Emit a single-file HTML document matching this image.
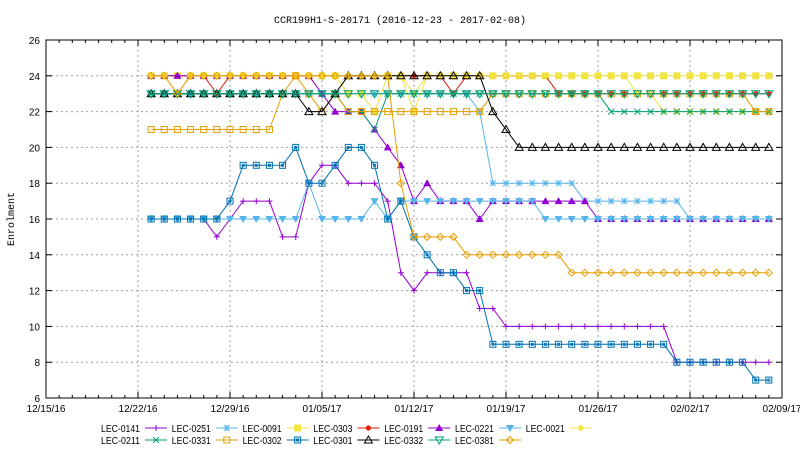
<!DOCTYPE html>
<html><head><meta charset="utf-8"><style>
body{margin:0;background:#fff;}
svg{display:block;font-family:"Liberation Sans",sans-serif;}
</style></head><body>
<svg id="chart" width="800" height="450">
<text x="400" y="23" text-anchor="middle" font-size="10" font-family="Liberation Mono, monospace">CCR199H1-S-20171 (2016-12-23 - 2017-02-08)</text>
<text transform="translate(14,219) rotate(-90)" text-anchor="middle" font-size="10" font-family="Liberation Mono, monospace">Enrolment</text>
<g id="grid"></g><g id="series"></g><g id="axes"></g><g id="legend"></g>
</svg>
<script>
const yTicks=[6,8,10,12,14,16,18,20,22,24,26];
const xTickLabels=["12/15/16","12/22/16","12/29/16","01/05/17","01/12/17","01/19/17","01/26/17","02/02/17","02/09/17"];
const xTickDays=[0,7,14,21,28,35,42,49,56];
const startDay=8; // 12/23 offset from 12/15
const names=["LEC-0141","LEC-0251","LEC-0091","LEC-0303","LEC-0191","LEC-0221","LEC-0021","LEC-0211","LEC-0331","LEC-0302","LEC-0301","LEC-0332","LEC-0381"];
function rep(v,n){return Array(n).fill(v);}
const s0141=[16,16,16,16,16,15,16,17,17,17,15,15,18,19,19,18,18,18,17,13,12,13,13,13,13,11,11].concat(rep(10,13),rep(8,8));
const s0251=rep(23,25).concat([22,18],rep(18,6),rep(17,8),rep(16,7));
const s0091=rep(24,15).concat([23,23,22,24,24,22],rep(24,27));
const s0303=[24,24,24,24,24,23].concat(rep(24,17),[23],rep(24,7),rep(23,17));
const s0191=rep(24,13).concat([23,22,22,22,21,20,19,17,18,17,17,17,16],rep(17,8),rep(16,14));
const s0221=rep(16,12).concat([18,16,16,16,16,17,16],rep(17,11),rep(16,18));
const s0021=[24,24,23,24].concat(rep(24,16),[23],rep(24,16),[23,23],rep(22,9));
const s0211=rep(23,15).concat([22,22,21],rep(23,17),rep(22,13));
const s0331=rep(21,10).concat([23,24,23,22,23,22,22,22],rep(22,8),rep(23,20),[22,22]);
const s0302=rep(16,6).concat([17,19,19,19,19,20,18,18,19,20,20,19,16,17,15,14,13,13,12,12],rep(9,14),rep(8,6),[7,7]);
const s0301=rep(23,12).concat([22,22,23],rep(24,11),[22,21],rep(20,20));
const s0332=rep(23,48);
const s0381=[24,24,23,24].concat(rep(24,15),[18,15,15,15,15],rep(14,8),rep(13,16));
const seriesData=[s0141,s0251,s0091,s0303,s0191,s0221,s0021,s0211,s0331,s0302,s0301,s0332,s0381];
const colors=["#9400d3","#56b4e9","#f0e442","#e51e10","#9400d3","#56b4e9","#f0e442","#009e73","#e69f00","#0072b2","#000000","#009e73","#e69f00"];
const markers=["plus","star","sq","circ","tri","dtri","diam","x","osq","osqc","otri","odtri","odiam"];
const L=46,R=782,T=40,B=398;
function xs(d){return L+(d/56)*(R-L);}
function ys(v){return B-(v-6)/20*(B-T);}
const NS="http://www.w3.org/2000/svg";
function mk(tag,attrs,parent){const e=document.createElementNS(NS,tag);for(const k in attrs)e.setAttribute(k,attrs[k]);parent.appendChild(e);return e;}
const grid=document.getElementById('grid'),axes=document.getElementById('axes'),sg=document.getElementById('series'),lg=document.getElementById('legend');
yTicks.forEach(v=>{
 const y=ys(v);
 if(v>6&&v<26){const g=mk('line',{x1:L,x2:R,y1:y,y2:y,stroke:'#a0a0a0','stroke-dasharray':'2,3','stroke-width':1},grid);
 
 }
 mk('line',{x1:L,x2:L+6,y1:y,y2:y,stroke:'#000'},axes);
 mk('line',{x1:R,x2:R-6,y1:y,y2:y,stroke:'#000'},axes);
 const t=mk('text',{x:L-6,y:y+4,'text-anchor':'end','font-size':10},axes);t.textContent=v;
 
 
});
for(let d=0;d<=56;d++){const x=xs(d);mk('line',{x1:x,x2:x,y1:B,y2:B-3,stroke:'#000'},axes);mk('line',{x1:x,x2:x,y1:T,y2:T+3,stroke:'#000'},axes);}
xTickDays.forEach((d,i)=>{
 const x=xs(d);
 if(i>0&&i<xTickDays.length-1){const g=mk('line',{x1:x,x2:x,y1:T,y2:B,stroke:'#a0a0a0','stroke-dasharray':'2,3'},grid);
 
 }
 mk('line',{x1:x,x2:x,y1:B,y2:B-6,stroke:'#000'},axes);mk('line',{x1:x,x2:x,y1:T,y2:T+6,stroke:'#000'},axes);
 const t=mk('text',{x:x,y:B+14,'text-anchor':'middle','font-size':10},axes);t.textContent=xTickLabels[i];
 
 
});
const fr=mk('rect',{x:L,y:T,width:R-L,height:B-T,fill:'none',stroke:'#000'},axes);


function marker(type,x,y,c,p){
 const s=3;
 switch(type){
 case 'plus':mk('path',{d:`M${x-s} ${y}H${x+s}M${x} ${y-s}V${y+s}`,stroke:c,fill:'none'},p);break;
 case 'x':mk('path',{d:`M${x-s} ${y-s}L${x+s} ${y+s}M${x-s} ${y+s}L${x+s} ${y-s}`,stroke:c,fill:'none'},p);break;
 case 'star':mk('path',{d:`M${x-s} ${y}H${x+s}M${x} ${y-s}V${y+s}M${x-s} ${y-s}L${x+s} ${y+s}M${x-s} ${y+s}L${x+s} ${y-s}`,stroke:c,fill:'none'},p);break;
 case 'sq':mk('rect',{x:x-3.5,y:y-3.5,width:7,height:7,fill:c},p);break;
 case 'osq':mk('rect',{x:x-3,y:y-3,width:6,height:6,fill:'none',stroke:c},p);break;
 case 'osqc':mk('rect',{x:x-3,y:y-3,width:6,height:6,fill:'none',stroke:c},p);mk('circle',{cx:x,cy:y,r:1.2,fill:'none',stroke:c},p);break;
 case 'circ':mk('circle',{cx:x,cy:y,r:2.6,fill:c},p);break;
 case 'tri':mk('path',{d:`M${x} ${y-4}L${x+4} ${y+3}L${x-4} ${y+3}Z`,fill:c},p);break;
 case 'otri':mk('path',{d:`M${x} ${y-4}L${x+4} ${y+3}L${x-4} ${y+3}Z`,fill:'none',stroke:c},p);break;
 case 'dtri':mk('path',{d:`M${x} ${y+4}L${x+4} ${y-3}L${x-4} ${y-3}Z`,fill:c},p);break;
 case 'odtri':mk('path',{d:`M${x} ${y+4}L${x+4} ${y-3}L${x-4} ${y-3}Z`,fill:'none',stroke:c},p);break;
 case 'diam':mk('path',{d:`M${x} ${y-3.5}L${x+3.5} ${y}L${x} ${y+3.5}L${x-3.5} ${y}Z`,fill:c},p);break;
 case 'odiam':mk('path',{d:`M${x} ${y-3.5}L${x+3.5} ${y}L${x} ${y+3.5}L${x-3.5} ${y}Z`,fill:'none',stroke:c},p);break;
 }
}
seriesData.forEach((arr,si)=>{
 const g=mk('g',{},sg);
 
 
 const pts=arr.map((v,i)=>[xs(startDay+i),ys(v)]);
 mk('polyline',{points:pts.map(p=>p.join(',')).join(' '),fill:'none',stroke:colors[si],'stroke-width':1},g);
 pts.forEach(p=>marker(markers[si],p[0],p[1],colors[si],g));
});
names.forEach((n,i)=>{
 const row=i<7?0:1,col=i<7?i:i-7;
 const bx=101+col*70.8,y=row?440:428;
 const g=mk('g',{},lg);
 
 
 const t=mk('text',{x:bx,y:y+4,'font-size':10,textLength:39,lengthAdjust:'spacingAndGlyphs'},g);t.textContent=n;
 mk('line',{x1:bx+44,x2:bx+66,y1:y,y2:y,stroke:colors[i]},g);
 marker(markers[i],bx+55,y,colors[i],g);
});
</script>
</body></html>
